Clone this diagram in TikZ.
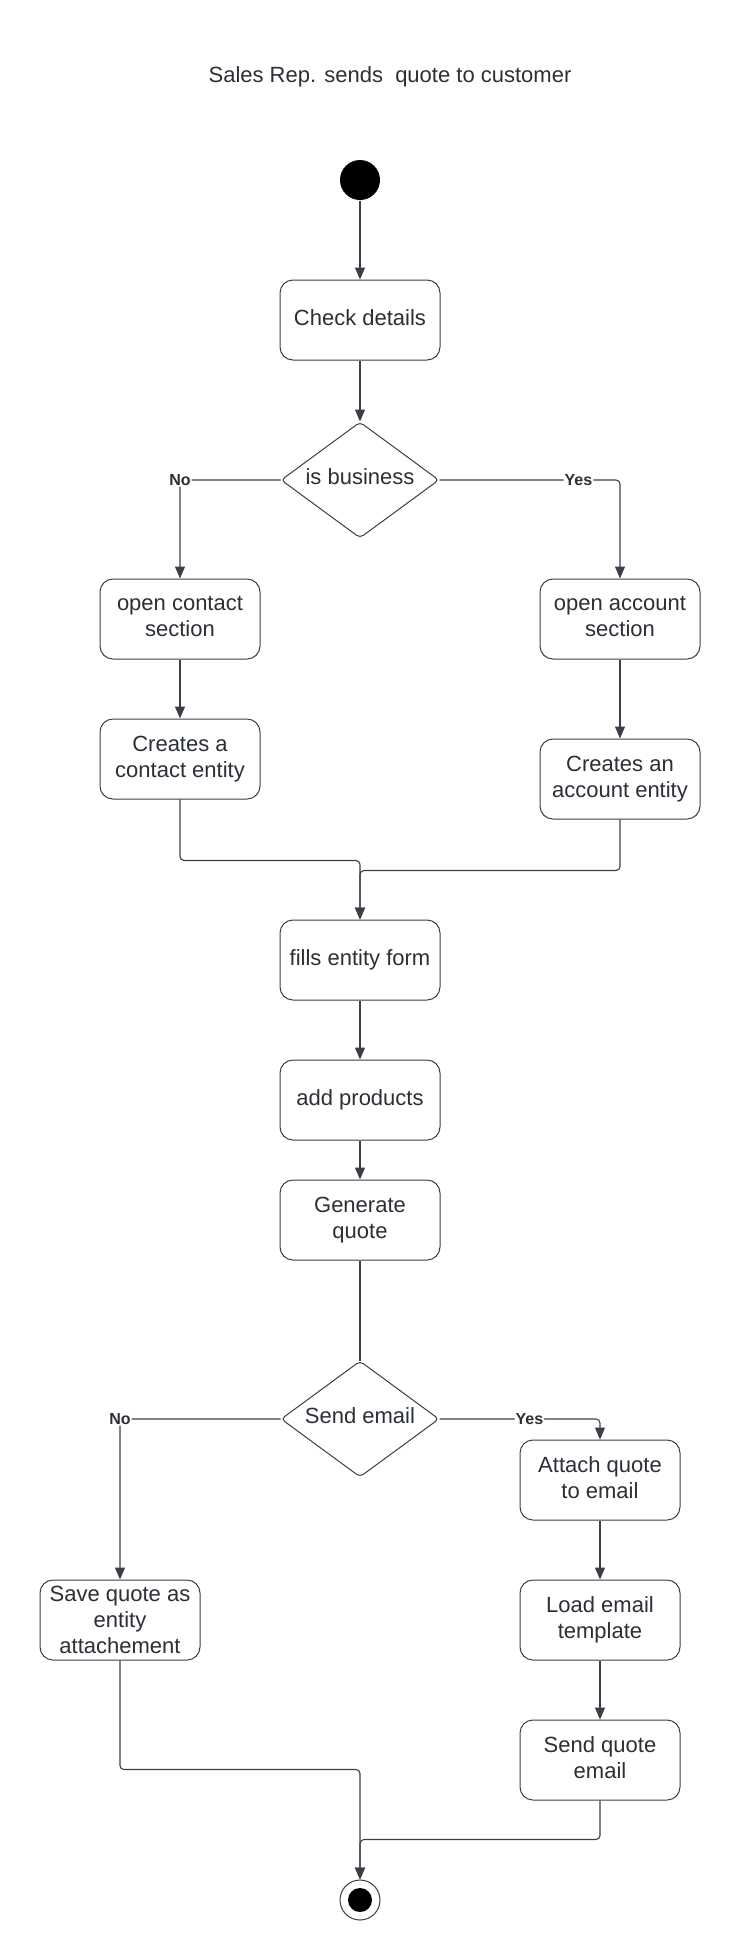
\documentclass[tikz,border=0pt]{standalone}
\usepackage{fontspec}
\setmainfont{Liberation Sans}
\usepackage{tikz}
\usetikzlibrary{arrows.meta,shapes.geometric,positioning}
\definecolor{ink}{HTML}{3A3F47}
\definecolor{txt}{HTML}{2B2F36}

\begin{document}
\begin{tikzpicture}[->,>={Triangle[length=12pt,width=10pt]},x=1pt,y=-1pt,node distance=140pt,color=ink,line width=1.1pt,rounded corners=4pt]
	\tikzstyle{every node}=[font=\fontsize{22}{26}\selectfont, text=txt]
	\tikzstyle{activity}=[rectangle, rounded corners=13pt, draw=ink, fill=white, minimum width=160pt, minimum height=80pt, align=center, text depth=5pt, line width=1pt]
	\tikzstyle{decision}=[diamond, draw=ink, fill=white, minimum width=158pt, minimum height=116pt, inner sep=0pt, aspect=1.36, text depth=6pt, line width=1pt]
	\tikzstyle{startdot}=[circle, fill=black, minimum size=40pt, inner sep=0pt]
	\tikzstyle{enddot}=[circle, draw=ink, fill=white, minimum size=40pt, inner sep=0pt, line width=1pt, path picture={\fill[black] (path picture bounding box.center) circle (12pt);}]
	\tikzstyle{guard}=[fill=white, inner sep=1pt, font=\bfseries\fontsize{16}{18}\selectfont]
	\tikzstyle{every edge}=[draw=ink]
	
	\useasboundingbox (0,0) rectangle (740,1960);
	
	\node[startdot]  (1) at (360,180)                                          {};
	\node            (0) [node distance=103pt, above of=1, xshift=30pt]        {Sales Rep. sends\ \ quote to customer};
	\node[activity]  (2) [below of=1]                                          {Check details};
	\node[decision]  (3) [node distance=160pt, below of=2]                     {is business};
	\node[activity]  (4) [node distance=139pt, below of=3, xshift=-180pt]      {open contact\\section};
	\node[activity]  (5) [node distance=139pt, below of=3, xshift=260pt]       {open account\\section};
	\node[activity]  (6) [below of=4]                                          {Creates a\\contact entity};
	\node[activity]  (7) [node distance=160pt, below of=5]                     {Creates an\\account entity};
	\node[activity]  (8) [node distance=480pt, below of=3]                     {fills entity form};
	\node[activity]  (9) [below of=8]                                          {add products};
	\node[activity] (10) [node distance=120pt, below of=9]                     {Generate\\quote};
	\node[decision] (11) [node distance=199pt, below of=10]                    {Send email};
	\node[activity] (12) [node distance=61pt, below of=11, xshift=240pt]       {Attach quote\\to email};
	\node[activity] (13) [below of=12]                                         {Load email\\template};
	\node[activity] (14) [below of=13]                                         {Send quote\\email};
	\node[activity, text depth=-8pt] (15) [node distance=201pt, below of=11, xshift=-240pt] {Save quote as\\entity\\attachement};
	\node[enddot]   (16) [node distance=481pt, below of=11]                    {};
	
	\path (1) edge (2);
	\path (2) edge (3);
	\draw (3.west) -| node[guard]{No} (4.north);
	\draw (3.east) -| node[guard, pos=0.385]{Yes} (5.north);
	\path (4) edge (6);
	\path (5) edge (7);
	\draw (6.south) -- ++(0,61) -| (8.north);
	\draw (7.south) -- ++(0,51) -| (8.north);
	\path (8) edge (9);
	\path (9) edge (10);
	\path (10) edge[-] (11);
	\draw (11.west) -| node[guard]{No} (15.north);
	\draw (11.east) -| node[guard, pos=0.28]{Yes} (12.north);
	\path (12) edge (13);
	\path (13) edge (14);
	\draw (15.south) -- ++(0,109) -| (16.north);
	\draw (14.south) -- ++(0,39) -| (16.north);
	
\end{tikzpicture}
\end{document}
